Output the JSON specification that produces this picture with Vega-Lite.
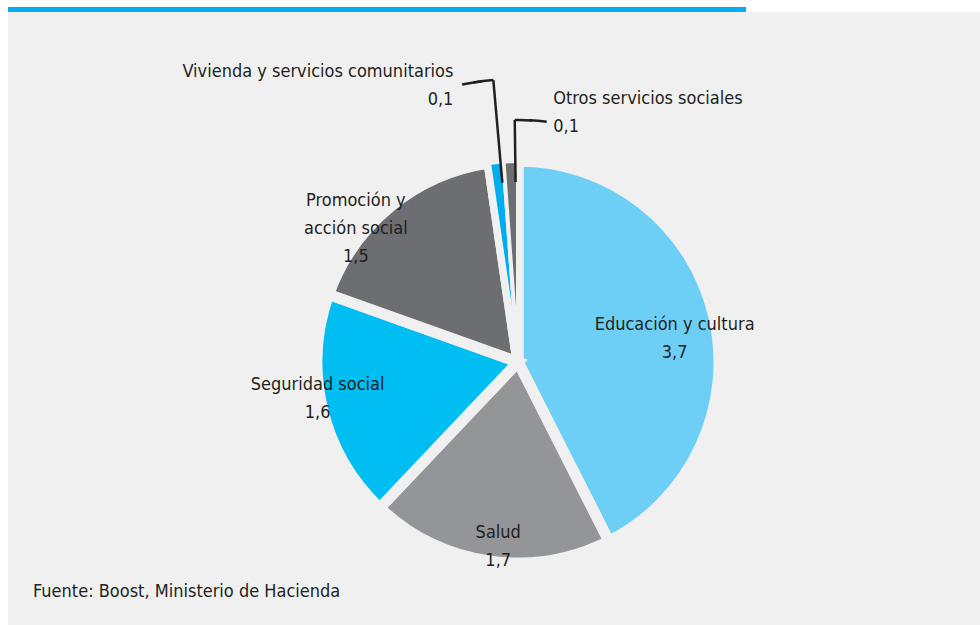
{
  "$schema": "https://vega.github.io/schema/vega-lite/v6.json",
  "padding": {"left": 8, "top": 7, "right": -48, "bottom": -87},
  "background": "white",
  "spacing": 0,
  "bounds": "flush",
  "config": {"view": {"stroke": null}, "font": "DejaVu Sans Condensed"},
  "title": {
    "text": "Fuente: Boost, Ministerio de Hacienda",
    "orient": "bottom",
    "anchor": "start",
    "frame": "group",
    "offset": 0,
    "dx": 25,
    "dy": -129,
    "fontSize": 18,
    "fontWeight": "normal",
    "color": "#231f20"
  },
  "data": {
    "values": [
      {"categoria": "Educación y cultura", "valor": 3.7, "orden": 1, "etiqueta": "Educación y cultura\n3,7"},
      {"categoria": "Salud", "valor": 1.7, "orden": 2, "etiqueta": "Salud\n1,7"},
      {"categoria": "Seguridad social", "valor": 1.6, "orden": 3, "etiqueta": "Seguridad social\n1,6"},
      {"categoria": "Promoción y acción social", "valor": 1.5, "orden": 4, "etiqueta": "Promoción y\nacción social\n1,5"},
      {"categoria": "Vivienda y servicios comunitarios", "valor": 0.1, "orden": 5, "etiqueta": "Vivienda y servicios comunitarios\n0,1"},
      {"categoria": "Otros servicios sociales", "valor": 0.1, "orden": 6, "etiqueta": "Otros servicios sociales\n0,1"}
    ]
  },
  "vconcat": [
    {
      "width": 738,
      "height": 5,
      "view": {"fill": "#00aeef", "stroke": null},
      "mark": {"type": "text", "fontSize": 1, "baseline": "middle"},
      "encoding": {"text": {"value": ""}}
    },
    {
      "width": 1020,
      "height": 700,
      "view": {"fill": "#f0f0f0", "stroke": null},
      "encoding": {
        "theta": {"field": "valor", "type": "quantitative", "stack": true},
        "order": {"field": "orden", "type": "quantitative"},
        "detail": {"field": "categoria", "type": "nominal"}
      },
      "layer": [
        {
          "mark": {"type": "arc", "radius": 201, "stroke": "#f0f0f0", "strokeWidth": 11},
          "encoding": {
            "color": {
              "field": "categoria", "type": "nominal", "legend": null,
              "scale": {
                "domain": ["Educación y cultura", "Salud", "Seguridad social", "Promoción y acción social", "Vivienda y servicios comunitarios", "Otros servicios sociales"],
                "range": ["#6dcff6", "#939598", "#00bdf2", "#6d6e71", "#00aeef", "#6d6e71"]
              }
            }
          }
        },
        {
          "mark": {"type": "arc", "radius": 201, "stroke": "#f0f0f0", "strokeWidth": 4},
          "encoding": {
            "color": {"field": "categoria", "type": "nominal", "legend": null},
            "opacity": {"condition": {"test": "datum.orden >= 5", "value": 1}, "value": 0}
          }
        },
        {
          "mark": {"type": "arc", "radius": 283, "radius2": 180, "padAngle": 0.4, "thetaOffset": 0.0211, "filled": false, "stroke": "#231f20", "strokeWidth": 2.5},
          "encoding": {"strokeOpacity": {"condition": {"test": "datum.orden == 5", "value": 1}, "value": 0}}
        },
        {
          "mark": {"type": "arc", "radius": 242, "radius2": 180, "padAngle": 0.4, "thetaOffset": 0.02269, "filled": false, "stroke": "#231f20", "strokeWidth": 2.5},
          "encoding": {"strokeOpacity": {"condition": {"test": "datum.orden == 6", "value": 1}, "value": 0}}
        },
        {
          "mark": {"type": "arc", "radius": 283, "radius2": 283, "thetaOffset": -0.0150, "filled": false, "stroke": "#231f20", "strokeWidth": 2.5},
          "encoding": {"strokeOpacity": {"condition": {"test": "datum.orden == 5", "value": 1}, "value": 0}}
        },
        {
          "mark": {"type": "arc", "radius": 283, "radius2": 283, "thetaOffset": -0.05445, "filled": false, "stroke": "#231f20", "strokeWidth": 2.5},
          "encoding": {"strokeOpacity": {"condition": {"test": "datum.orden == 5", "value": 1}, "value": 0}}
        },
        {
          "mark": {"type": "arc", "radius": 242, "radius2": 242, "thetaOffset": 0.05882, "filled": false, "stroke": "#231f20", "strokeWidth": 2.5},
          "encoding": {"strokeOpacity": {"condition": {"test": "datum.orden == 6", "value": 1}, "value": 0}}
        },
        {
          "mark": {"type": "arc", "radius": 242, "radius2": 242, "thetaOffset": 0.11886, "filled": false, "stroke": "#231f20", "strokeWidth": 2.5},
          "encoding": {"strokeOpacity": {"condition": {"test": "datum.orden == 6", "value": 1}, "value": 0}}
        },
        {
          "mark": {"type": "text", "radius": 160, "dx": 1, "dy": 0, "fontSize": 18, "lineHeight": 28, "lineBreak": "\n", "align": "center", "baseline": "middle", "color": "#231f20"},
          "encoding": {"text": {"condition": {"test": "datum.orden == 1", "field": "etiqueta", "type": "nominal"}, "value": ""}}
        },
        {
          "mark": {"type": "text", "radius": 186, "dx": 7, "dy": -13, "fontSize": 18, "lineHeight": 28, "lineBreak": "\n", "align": "center", "baseline": "middle", "color": "#231f20"},
          "encoding": {"text": {"condition": {"test": "datum.orden == 2", "field": "etiqueta", "type": "nominal"}, "value": ""}}
        },
        {
          "mark": {"type": "text", "radius": 205, "dx": -1, "dy": -25, "fontSize": 18, "lineHeight": 28, "lineBreak": "\n", "align": "center", "baseline": "middle", "color": "#231f20"},
          "encoding": {"text": {"condition": {"test": "datum.orden == 3", "field": "etiqueta", "type": "nominal"}, "value": ""}}
        },
        {
          "mark": {"type": "text", "radius": 207, "dx": -31, "dy": -1, "fontSize": 18, "lineHeight": 28, "lineBreak": "\n", "align": "center", "baseline": "middle", "color": "#231f20"},
          "encoding": {"text": {"condition": {"test": "datum.orden == 4", "field": "etiqueta", "type": "nominal"}, "value": ""}}
        },
        {
          "mark": {"type": "text", "radius": 283, "dx": -34, "dy": -9, "fontSize": 18, "lineHeight": 28, "lineBreak": "\n", "align": "right", "baseline": "middle", "color": "#231f20"},
          "encoding": {"text": {"condition": {"test": "datum.orden == 5", "field": "etiqueta", "type": "nominal"}, "value": ""}}
        },
        {
          "mark": {"type": "text", "radius": 242, "dx": 44, "dy": -21, "fontSize": 18, "lineHeight": 28, "lineBreak": "\n", "align": "left", "baseline": "middle", "color": "#231f20"},
          "encoding": {"text": {"condition": {"test": "datum.orden == 6", "field": "etiqueta", "type": "nominal"}, "value": ""}}
        }
      ]
    }
  ]
}
